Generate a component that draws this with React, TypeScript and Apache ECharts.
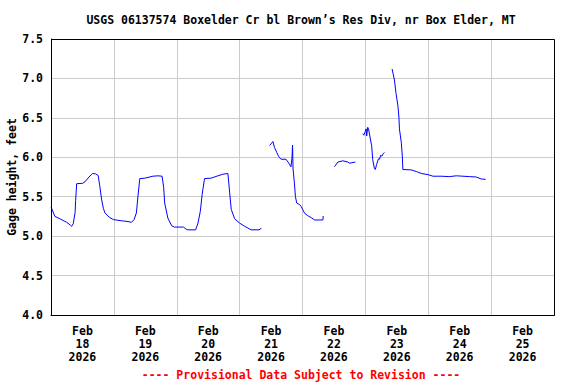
import React, { useEffect, useRef } from "react";
import * as echarts from "echarts";

// Hours since 2026-02-18 00:00 and gage height (feet)
const seg1: [number, number][] = [
  [0, 5.37], [1.5, 5.25], [3.4, 5.22], [6.0, 5.175], [7.4, 5.14], [7.9, 5.125], [8.5, 5.16],
  [9.2, 5.3], [9.4, 5.45], [9.8, 5.665], [12.1, 5.67], [13.0, 5.69], [14.5, 5.75], [15.9, 5.795],
  [17.0, 5.79], [18.0, 5.77], [18.6, 5.64], [19.3, 5.47], [20.0, 5.35], [20.6, 5.295], [22.2, 5.24],
  [23.8, 5.21], [26.9, 5.195], [29.4, 5.185], [30.7, 5.175], [31.7, 5.21], [32.6, 5.295], [33.2, 5.51],
  [33.9, 5.73], [35.8, 5.735], [38.9, 5.76], [40.8, 5.765], [42.4, 5.76], [43.0, 5.62], [43.4, 5.42],
  [44.6, 5.23], [46.1, 5.13], [47.1, 5.115], [50.6, 5.115], [51.5, 5.09], [52.2, 5.08], [55.2, 5.08],
  [56.1, 5.165], [57.0, 5.315], [57.7, 5.53], [58.6, 5.73], [61.1, 5.735], [63.7, 5.765], [65.6, 5.785],
  [67.5, 5.795], [67.8, 5.7], [68.2, 5.55], [68.8, 5.34], [70.1, 5.22], [72.0, 5.165], [73.9, 5.125],
  [76.4, 5.08], [79.4, 5.08], [80.3, 5.1],
];
const seg2: [number, number][] = [
  [83.4, 6.15], [84.0, 6.17], [84.7, 6.2], [85.3, 6.125], [86.2, 6.06], [86.9, 6.01], [87.8, 5.975],
  [89.7, 5.975], [90.7, 5.93], [91.6, 5.88], [92.0, 6.0], [92.2, 6.155], [92.4, 5.85], [92.9, 5.675],
  [93.3, 5.5], [93.8, 5.42], [94.9, 5.4], [95.5, 5.375], [96.8, 5.29], [98.0, 5.26], [99.3, 5.235],
  [100.6, 5.205], [103.8, 5.205], [103.9, 5.255],
];
const seg3: [number, number][] = [
  [108.2, 5.88], [109.5, 5.94], [111.4, 5.955], [113.3, 5.94], [114.0, 5.925], [116.2, 5.94],
];
const seg4: [number, number][] = [
  [119.0, 6.3], [119.4, 6.28], [120.0, 6.33], [120.3, 6.36], [120.5, 6.27], [120.9, 6.38], [121.2, 6.36],
  [121.7, 6.27], [122.4, 6.145], [122.8, 5.97], [123.4, 5.865], [123.8, 5.845], [124.3, 5.91], [125.0, 5.98],
  [125.4, 5.975], [125.8, 6.025], [126.3, 6.015], [126.9, 6.05], [127.3, 6.06],
];
const seg5: [number, number][] = [
  [130.2, 7.12], [131.1, 6.98], [131.7, 6.81], [132.4, 6.66], [132.8, 6.51], [133.0, 6.36], [133.7, 6.19],
  [134.1, 6.015], [134.3, 5.845], [137.5, 5.84], [139.4, 5.82], [141.3, 5.795], [143.9, 5.78], [145.8, 5.76],
  [148.9, 5.76], [152.1, 5.755], [154.7, 5.765], [157.2, 5.76], [159.7, 5.755], [162.3, 5.75], [164.2, 5.725],
  [165.9, 5.72],
];
const segments = [seg1, seg2, seg3, seg4, seg5];

const dayLabels = [
  "Feb\n18\n2026", "Feb\n19\n2026", "Feb\n20\n2026", "Feb\n21\n2026",
  "Feb\n22\n2026", "Feb\n23\n2026", "Feb\n24\n2026", "Feb\n25\n2026",
];

const titleText = "USGS 06137574 Boxelder Cr bl Brown\u2019s Res Div, nr Box Elder, MT";
const yName = "Gage height, feet";
const footer = "---- Provisional Data Subject to Revision ----";

const FONT = "'DejaVu Sans Mono', monospace";

export default function App() {
  const ref = useRef<HTMLDivElement>(null);
  useEffect(() => {
    if (!ref.current) return;
    const chart = echarts.init(ref.current, undefined, { renderer: "svg" });
    const txt = { fontFamily: FONT, fontWeight: "bold" as const, fontSize: 11.5, color: "#000" };
    chart.setOption({
      animation: false,
      backgroundColor: "#fff",
      grid: { left: 51, right: 22, top: 39, bottom: 69, show: false, containLabel: false, outerBoundsMode: "none" },
      xAxis: [
        {
          type: "value", min: 0, max: 192, interval: 24,
          axisLine: { show: true, lineStyle: { color: "#000", width: 1 } },
          axisTick: { show: false }, axisLabel: { show: false },
          splitLine: { show: true, lineStyle: { color: "#cccccc", width: 1 } },
        },
        {
          type: "category", data: dayLabels, boundaryGap: true, position: "bottom",
          axisLine: { show: false }, axisTick: { show: false }, splitLine: { show: false },
          axisLabel: { ...txt, interval: 0, lineHeight: 13, margin: 9 },
        },
      ],
      yAxis: {
        type: "value", min: 4, max: 7.5, interval: 0.5,
        axisLine: { show: true, lineStyle: { color: "#000", width: 1 } },
        axisTick: { show: false },
        axisLabel: { ...txt, margin: 8, formatter: (v: number) => v.toFixed(1) },
        splitLine: { show: true, lineStyle: { color: "#cccccc", width: 1 } },
      },
      graphic: [
        {
          type: "text", x: 301, y: 20, z: 100,
          style: { text: titleText, fill: "#000", align: "center", verticalAlign: "middle", font: `bold 11.5px ${FONT}` },
        },
        {
          type: "text", x: 12, y: 177, z: 100, rotation: Math.PI / 2,
          style: { text: yName, fill: "#000", align: "center", verticalAlign: "middle", font: `bold 11.5px ${FONT}` },
        },
        {
          type: "text", x: 301, y: 375, z: 100,
          style: { text: footer, fill: "#ff0000", align: "center", verticalAlign: "middle", font: `bold 11.5px ${FONT}` },
        },
        {
          type: "rect", z: 100, silent: true,
          shape: { x: 51.5, y: 39.5, width: 503, height: 276 },
          style: { fill: "none", stroke: "#000", lineWidth: 1 },
        },
      ],
      series: segments.map((s) => ({
        type: "line", xAxisIndex: 0, data: s, showSymbol: false, symbol: "none",
        lineStyle: { color: "#0000ff", width: 1 }, connectNulls: false,
      })),
    });
    return () => chart.dispose();
  }, []);
  return <div ref={ref} style={{ width: 576, height: 384, position: "absolute", left: 0, top: 0 }} />;
}
